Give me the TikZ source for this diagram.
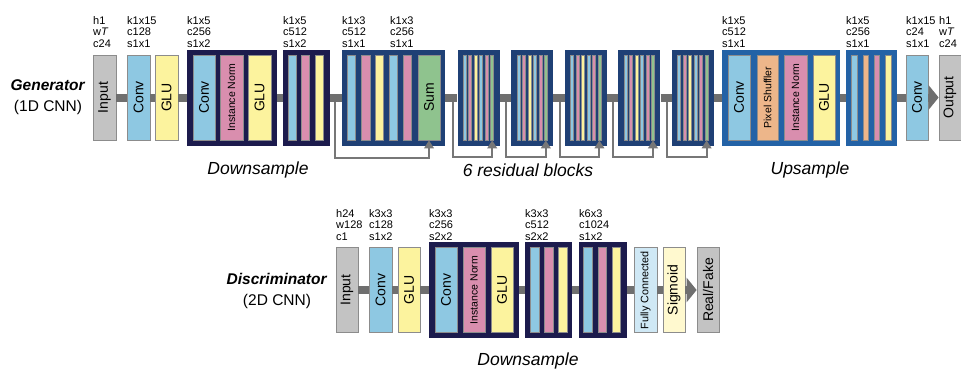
\documentclass[tikz,border=0pt]{standalone}
\usepackage{fontspec}
\setmainfont{Liberation Sans}
\usetikzlibrary{arrows.meta}
\definecolor{cgray}{HTML}{C3C3C3}
\definecolor{cconv}{HTML}{8EC8E2}
\definecolor{cglu}{HTML}{FCF39E}
\definecolor{cnorm}{HTML}{D98EAE}
\definecolor{cshuf}{HTML}{EDB68A}
\definecolor{csum}{HTML}{8FC38E}
\definecolor{cfc}{HTML}{CFE8F5}
\definecolor{csig}{HTML}{FFF9CF}
\definecolor{fdown}{HTML}{1C1B4D}
\definecolor{fres}{HTML}{1F4075}
\definecolor{fup}{HTML}{2362A6}
\definecolor{lnc}{HTML}{6F6F6F}
\definecolor{skc}{HTML}{777777}
\definecolor{edge}{HTML}{8C8C8C}
\tikzset{
  lay/.style ={draw=edge, line width=0.7pt, inner sep=0pt, minimum width=23pt,
               minimum height=85pt, font=\fontsize{14}{14}\selectfont},
  inbox/.style={lay, fill=cgray},
  conv/.style={lay, fill=cconv},
  glu/.style ={lay, fill=cglu},
  norm/.style={lay, fill=cnorm, font=\fontsize{10.5}{11}\selectfont},
  shuf/.style={lay, fill=cshuf, font=\fontsize{10.5}{11}\selectfont},
  sumb/.style={lay, fill=csum},
  fcb/.style ={lay, fill=cfc, font=\fontsize{10.8}{11}\selectfont},
  sigb/.style={lay, fill=csig},
  frm/.style ={inner sep=0pt, minimum height=96pt},
  bar/.style ={draw=edge, line width=0.6pt, inner sep=0pt, minimum height=85pt},
  spec/.style={anchor=north west, inner sep=0pt, align=left, font=\fontsize{11}{11.5}\selectfont},
  capt/.style={font=\fontsize{17.5}{18}\selectfont\itshape},
  net/.style ={align=center, font=\fontsize{15.5}{21}\selectfont},
  flow/.style={draw=lnc, line width=8pt},
  flowend/.style={flow, -{Triangle[length=10pt,width=24pt]}},
  skip/.style={draw=skc, line width=2pt, -{Triangle[length=8pt,width=9.5pt]}},
}
\begin{document}
\begin{tikzpicture}[x=1pt,y=-1pt]
\useasboundingbox (0,0) rectangle (961,372);
% generator
\node[net] (gen) at (48,97) {\textbf{\textit{Generator}}\\(1D CNN)};
\node[inbox] (gin) at (104.5,97.5) {\rotatebox{90}{Input}};
\node[conv] (gconv) at (138.5,97.5) {\rotatebox{90}{Conv}};
\node[glu] (gglu) at (166.5,97.5) {\rotatebox{90}{GLU}};
\node[frm, fill=fdown, minimum width=90pt] (gd1) at (232,97.5) {};
\node[conv, minimum width=22pt] (gd1a) at (204,97.5) {\rotatebox{90}{Conv}};
\node[norm] (gd1b) at (231.5,97.5) {\rotatebox{90}{Instance Norm}};
\node[glu] (gd1c) at (259.5,97.5) {\rotatebox{90}{GLU}};
\node[frm, fill=fdown, minimum width=47pt] (gd2) at (306.5,97.5) {};
\node[bar, fill=cconv, minimum width=7.5pt] (gd2a) at (292.5,97.5) {};
\node[bar, fill=cnorm, minimum width=7.5pt] (gd2b) at (305.5,97.5) {};
\node[bar, fill=cglu, minimum width=7.5pt] (gd2c) at (319.5,97.5) {};
% residual blocks
\node[frm, fill=fres, minimum width=103pt] (gr1) at (393.5,97.5) {};
\node[bar, fill=cconv, minimum width=8.5pt] (gr1a) at (351.5,97.5) {};
\node[bar, fill=cnorm, minimum width=8.5pt] (gr1b) at (366,97.5) {};
\node[bar, fill=cglu, minimum width=8pt] (gr1c) at (379.5,97.5) {};
\node[bar, fill=cconv, minimum width=8.5pt] (gr1d) at (393.5,97.5) {};
\node[bar, fill=cnorm, minimum width=8.5pt] (gr1e) at (407.5,97.5) {};
\node[sumb, minimum width=22pt] (sum1) at (429,97.5) {\rotatebox{90}{Sum}};
\coordinate (gk1) at (335,97.5);
\draw[skip] (gk1) -- ++(0,60) -| (sum1.south);
\foreach \i/\l in {2/457.5,3/511.1,4/564.7,5/618.3,6/671.9}{
  \node[frm, fill=fres, minimum width=42pt] (gr\i) at (\l+21,97.5) {};
  \foreach \c [count=\j] in {cconv,cnorm,cglu,cconv,cnorm,csum}
    \node[bar, fill=\c, minimum width=3pt] (gr\i b\j) at (\l+1.7+5.5*\j,97.5) {};
  \coordinate (gk\i) at (\l-5,97.5);
  \draw[skip] (gk\i) -- ++(0,59) -| (gr\i b6.south);
}
% upsample
\node[frm, fill=fup, minimum width=118pt] (gu1) at (781,97.5) {};
\node[conv, minimum width=22pt] (gu1a) at (739,97.5) {\rotatebox{90}{Conv}};
\node[shuf, minimum width=21pt] (gu1b) at (767.5,97.5) {\rotatebox{90}{Pixel Shuffler}};
\node[norm] (gu1c) at (795.5,97.5) {\rotatebox{90}{Instance Norm}};
\node[glu, minimum width=22pt] (gu1d) at (824,97.5) {\rotatebox{90}{GLU}};
\node[frm, fill=fup, minimum width=51pt] (gu2) at (871.5,97.5) {};
\node[bar, fill=cconv, minimum width=5.5pt] (gu2a) at (854.5,97.5) {};
\node[bar, fill=cshuf, minimum width=5.5pt] (gu2b) at (866,97.5) {};
\node[bar, fill=cnorm, minimum width=5.5pt] (gu2c) at (877,97.5) {};
\node[bar, fill=cglu, minimum width=5.5pt] (gu2d) at (888.5,97.5) {};
\node[conv, minimum width=22pt] (gcv) at (917,97.5) {\rotatebox{90}{Conv}};
\node[inbox, minimum width=22pt] (gout) at (950,97.5) {\rotatebox{90}{Output}};
\foreach \a/\b in {gin/gconv,gconv/gglu,gglu/gd1,gd1/gd2,gd2/gr1,gr1/gr2,gr2/gr3,gr3/gr4,gr4/gr5,gr5/gr6,gr6/gu1,gu1/gu2,gu2/gcv}
  \draw[flow] (\a.east) -- (\b.west);
\draw[flowend] (gcv.east) -- (gout.west);
\node[spec] (s1) at (93,16) {h1\\w\textit{T}\\c24};
\node[spec] (s2) at (127,16) {k1x15\\c128\\s1x1};
\node[spec] (s3) at (187,16) {k1x5\\c256\\s1x2};
\node[spec] (s4) at (283,16) {k1x5\\c512\\s1x2};
\node[spec] (s5) at (342,16) {k1x3\\c512\\s1x1};
\node[spec] (s6) at (390,16) {k1x3\\c256\\s1x1};
\node[spec] (s7) at (722,16) {k1x5\\c512\\s1x1};
\node[spec] (s8) at (846,16) {k1x5\\c256\\s1x1};
\node[spec] (s9) at (906,16) {k1x15\\c24\\s1x1};
\node[spec] (s10) at (939,16) {h1\\w\textit{T}\\c24};
\node[capt] (capd) at (258,170) {Downsample};
\node[capt] (capr) at (528,170) {6 residual blocks};
\node[capt] (capu) at (810,170) {Upsample};
% discriminator
\node[net] (dis) at (277,291) {\textbf{\textit{Discriminator}}\\(2D CNN)};
\node[inbox, minimum width=22pt] (din) at (347,290) {\rotatebox{90}{Input}};
\node[conv] (dconv) at (380.5,290) {\rotatebox{90}{Conv}};
\node[glu, minimum width=22pt] (dglu) at (409,290) {\rotatebox{90}{GLU}};
\node[frm, fill=fdown, minimum width=90pt] (dd1) at (474,290) {};
\node[conv, minimum width=22pt] (dd1a) at (446,290) {\rotatebox{90}{Conv}};
\node[norm, minimum width=22pt] (dd1b) at (474,290) {\rotatebox{90}{Instance Norm}};
\node[glu, minimum width=22pt] (dd1c) at (502,290) {\rotatebox{90}{GLU}};
\node[frm, fill=fdown, minimum width=47pt] (dd2) at (548.5,290) {};
\node[bar, fill=cconv, minimum width=9pt] (dd2a) at (534.5,290) {};
\node[bar, fill=cnorm, minimum width=9pt] (dd2b) at (548.5,290) {};
\node[bar, fill=cglu, minimum width=9pt] (dd2c) at (562.5,290) {};
\node[frm, fill=fdown, minimum width=48pt] (dd3) at (603,290) {};
\node[bar, fill=cconv, minimum width=8.5pt] (dd3a) at (588,290) {};
\node[bar, fill=cnorm, minimum width=8.5pt] (dd3b) at (602.5,290) {};
\node[bar, fill=cglu, minimum width=8.5pt] (dd3c) at (616.5,290) {};
\node[fcb] (dfc) at (645.5,290) {\rotatebox{90}{Fully Connected}};
\node[sigb, minimum width=22pt] (dsig) at (674,290) {\rotatebox{90}{Sigmoid}};
\node[inbox, minimum width=22pt] (dout) at (708,290) {\rotatebox{90}{Real/Fake}};
\foreach \a/\b in {din/dconv,dconv/dglu,dglu/dd1,dd1/dd2,dd2/dd3,dd3/dfc,dfc/dsig}
  \draw[flow] (\a.east) -- (\b.west);
\draw[flowend] (dsig.east) -- (dout.west);
\node[spec] (s11) at (336,209) {h24\\w128\\c1};
\node[spec] (s12) at (369,209) {k3x3\\c128\\s1x2};
\node[spec] (s13) at (429,209) {k3x3\\c256\\s2x2};
\node[spec] (s14) at (525,209) {k3x3\\c512\\s2x2};
\node[spec] (s15) at (579,209) {k6x3\\c1024\\s1x2};
\node[capt] (capdd) at (528,361) {Downsample};
\end{tikzpicture}
\end{document}
